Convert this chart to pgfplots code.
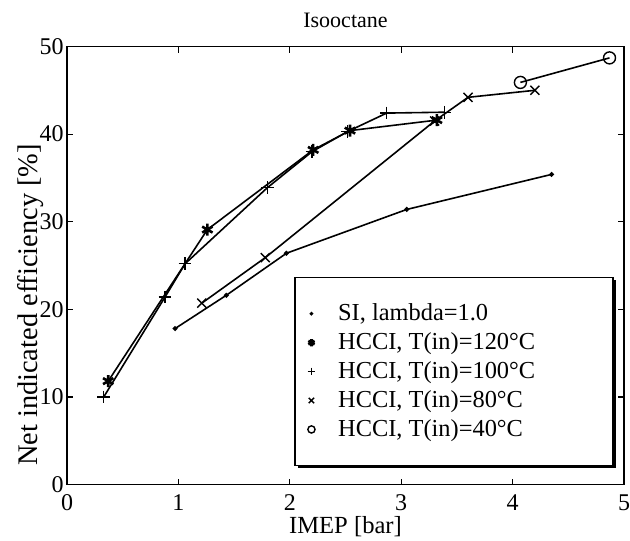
\documentclass[border=0pt]{standalone}
\usepackage{fontspec}
\setmainfont{Liberation Serif}
\usepackage{pgfplots}
\pgfplotsset{compat=1.18}
\usetikzlibrary{shadows}

\pgfplotstableread{
x y
0.97 17.8
1.43 21.6
1.97 26.4
3.05 31.4
4.35 35.4
}\SI

\pgfplotstableread{
x y
0.37 11.8
1.26 29.1
2.21 38.2
2.54 40.4
3.32 41.6
}\Ta

\pgfplotstableread{
x y
0.33 10.0
0.88 21.4
1.06 25.2
1.80 33.9
2.20 38.0
2.52 40.3
2.87 42.4
3.39 42.5
}\Tb

\pgfplotstableread{
x y
1.21 20.7
1.78 25.9
3.30 41.5
3.60 44.2
4.20 45.0
}\Tc

\pgfplotstableread{
x y
4.07 45.9
4.87 48.7
}\Td

\newcommand\lentry[1]{\makebox[132.5pt][l]{#1}}

\begin{document}
\begin{tikzpicture}
\begin{axis}[
  at={(33.5pt,27.75pt)}, anchor=south west,
  scale only axis, width=278.5pt, height=219pt,
  xmin=0, xmax=5, ymin=0, ymax=50,
  xtick={0,1,2,3,4,5}, ytick={0,10,20,30,40,50},
  tick align=inside, major tick length=3pt,
  /pgf/number format/assume math mode=true,
  tick label style={font=\fontsize{12}{14}\selectfont, inner sep=1.5pt},
  xticklabel style={yshift=-3.5pt},
  title={Isooctane},
  title style={font=\fontsize{11}{13}\selectfont},
  xlabel={IMEP [bar]}, ylabel={Net indicated efficiency [\%]},
  xlabel style={font=\fontsize{12.3}{14}\selectfont, yshift=2.5pt},
  ylabel style={font=\fontsize{14.2}{16}\selectfont, at={(axis description cs:-0.066,0.41)}, anchor=center},
  axis line style={line width=0.9pt},
  every tick/.style={black, line width=0.6pt},
  legend cell align=left,
  legend style={at={(0.982,0.474)}, anchor=north east,
    draw=black, line width=0.8pt, fill=white,
    drop shadow={shadow xshift=1.3pt, shadow yshift=-1.3pt, fill=black, opacity=1},
    font=\fontsize{12.2}{14}\selectfont,
    inner xsep=2pt, inner ysep=12pt, row sep=2.5pt,
    nodes={inner xsep=3pt, inner ysep=1pt}},
  legend image code/.code={\path (0,0) (0.55cm,0);
    \draw[#1, only marks, every mark/.append style={scale=0.6}] plot coordinates {(0.2cm,0cm)};},
  every axis plot/.append style={black, line width=0.8pt},
]
\addplot[mark=*, mark size=0.8pt] table[x=x,y=y] {\SI};
\addlegendentry{\lentry{SI, lambda=1.0}\rule{0pt}{8.5pt}}
\addplot[mark=asterisk, mark size=3pt, mark options={line width=1.3pt}] table[x=x,y=y] {\Ta};
\addlegendentry{\lentry{HCCI, T(in)=120°C}}
\addplot[mark=+, mark size=3.2pt, mark options={line width=0.7pt}] table[x=x,y=y] {\Tb};
\addlegendentry{\lentry{HCCI, T(in)=100°C}}
\addplot[mark=x, mark size=3.2pt, mark options={line width=0.7pt}] table[x=x,y=y] {\Tc};
\addlegendentry{\lentry{HCCI, T(in)=80°C}}
\addplot[mark=o, mark size=3pt, mark options={line width=0.7pt}] table[x=x,y=y] {\Td};
\addlegendentry{\lentry{HCCI, T(in)=40°C}\rule[-4.5pt]{0pt}{0pt}}
\end{axis}
\pgfresetboundingbox
\path[use as bounding box] (0,0) rectangle (315pt,270pt);
\end{tikzpicture}
\end{document}
